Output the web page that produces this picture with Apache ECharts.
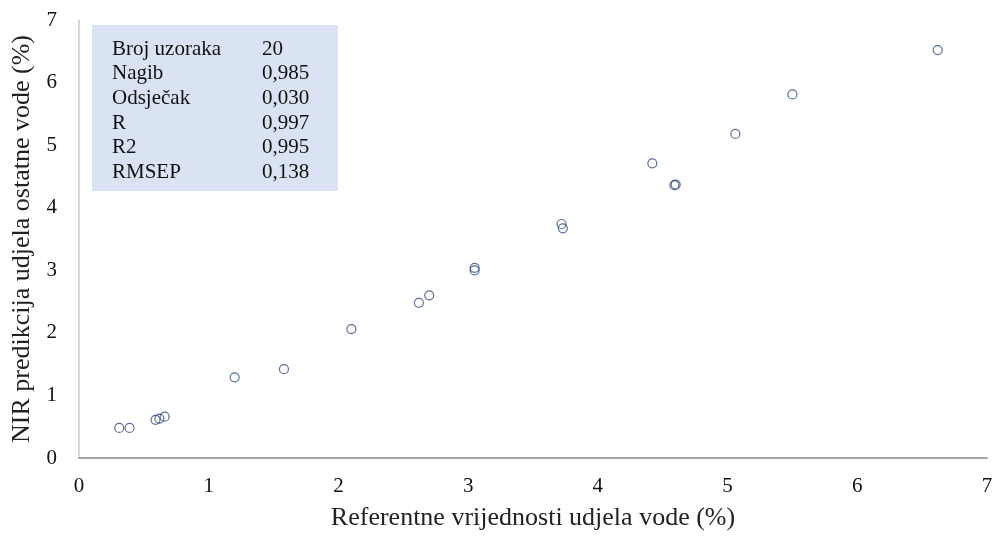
<!DOCTYPE html>
<html>
<head>
<meta charset="utf-8">
<script src="https://cdn.jsdelivr.net/npm/echarts@6/dist/echarts.min.js"></script>
<style>html,body{margin:0;padding:0;background:#fff;}#c{width:993px;height:536px;}</style>
</head>
<body>
<div id="c"></div>
<script>
const refValues = [0.31,0.39,0.59,0.62,0.66,1.20,1.58,2.10,2.62,2.70,3.05,3.05,3.72,3.73,4.42,4.59,4.60,5.06,5.50,6.62];
const nirValues = [0.48,0.48,0.61,0.63,0.66,1.29,1.42,2.06,2.48,2.60,3.04,3.00,3.74,3.67,4.71,4.36,4.37,5.18,5.81,6.52];
const statLabels = ['Broj uzoraka','Nagib','Odsječak','R','R2','RMSEP'];
const statValues = ['20','0,985','0,030','0,997','0,995','0,138'];
const xTitle = 'Referentne vrijednosti udjela vode (%)';
const yTitle = 'NIR predikcija udjela ostatne vode (%)';

const points = refValues.map((v, i) => [v, nirValues[i]]);
const serif = '"Liberation Serif", "DejaVu Serif", serif';

const chart = echarts.init(document.getElementById('c'));
chart.setOption({
  animation: false,
  grid: { left: 79, right: 6, top: 20, bottom: 78, outerBoundsMode: 'none', containLabel: false },
  xAxis: {
    type: 'value', min: 0, max: 7, interval: 1,
    name: xTitle, nameLocation: 'middle', nameGap: 47,
    nameTextStyle: { fontFamily: serif, fontSize: 26, color: '#222' },
    axisLine: { lineStyle: { color: '#888', width: 1.5 } },
    axisTick: { show: false },
    splitLine: { show: false },
    axisLabel: { fontFamily: serif, fontSize: 21, color: '#111', margin: 18 }
  },
  yAxis: {
    type: 'value', min: 0, max: 7, interval: 1,
    name: yTitle, nameLocation: 'middle', nameGap: 43,
    nameTextStyle: { fontFamily: serif, fontSize: 26, color: '#222' },
    axisLine: { show: true, lineStyle: { color: '#ccc', width: 1.5 } },
    axisTick: { show: false },
    splitLine: { show: false },
    axisLabel: { fontFamily: serif, fontSize: 21, color: '#111', margin: 22 }
  },
  graphic: [
    { type: 'rect', left: 92, top: 25, shape: { width: 246, height: 166 },
      style: { fill: '#dae3f3' }, z: 1 },
    { type: 'text', left: 112, top: 37, z: 2,
      style: { text: statLabels.join('\n'), fontFamily: serif, fontSize: 21, lineHeight: 24.6, fill: '#111' } },
    { type: 'text', left: 262, top: 37, z: 2,
      style: { text: statValues.join('\n'), fontFamily: serif, fontSize: 21, lineHeight: 24.6, fill: '#111' } }
  ],
  series: [{
    type: 'scatter',
    data: points,
    symbol: 'circle',
    symbolSize: 9,
    itemStyle: { color: 'rgba(255,255,255,0)', borderColor: '#2f4a7e', borderWidth: 1.2 }
  }]
});
</script>
</body>
</html>
